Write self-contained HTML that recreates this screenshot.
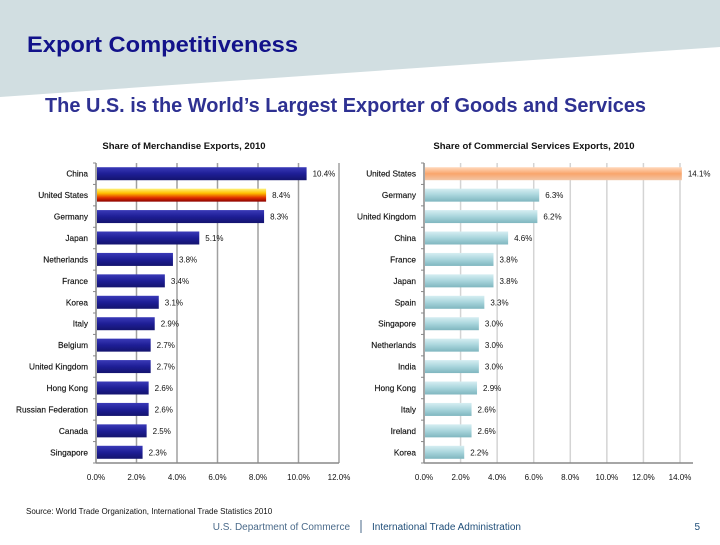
<!DOCTYPE html>
<html><head><meta charset="utf-8"><style>
body{margin:0;width:720px;height:540px;overflow:hidden;background:#fff;font-family:"Liberation Sans",sans-serif}
</style></head><body>
<svg width="720" height="540" xmlns="http://www.w3.org/2000/svg">
<defs>
<linearGradient id="navy" x1="0" y1="0" x2="0" y2="1"><stop offset="0" stop-color="#3a3ab8"/><stop offset="0.5" stop-color="#1e1e96"/><stop offset="1" stop-color="#14146e"/></linearGradient>
<linearGradient id="us1" x1="0" y1="0" x2="0" y2="1"><stop offset="0" stop-color="#fff27a"/><stop offset="0.35" stop-color="#ffc000"/><stop offset="0.7" stop-color="#e03000"/><stop offset="1" stop-color="#8a0000"/></linearGradient>
<linearGradient id="teal" x1="0" y1="0" x2="0" y2="1"><stop offset="0" stop-color="#d6eef2"/><stop offset="0.5" stop-color="#a8d5dc"/><stop offset="1" stop-color="#7fb6bf"/></linearGradient>
<linearGradient id="orange" x1="0" y1="0" x2="0" y2="1"><stop offset="0" stop-color="#ffd9bd"/><stop offset="0.5" stop-color="#f9a56c"/><stop offset="1" stop-color="#f2c6a6"/></linearGradient>
</defs>
<polygon points="0,0 720,0 720,47 0,97" fill="#d1dee1"/>
<text x="27" y="52" font-size="22" font-weight="bold" fill="#12128a" textLength="271" lengthAdjust="spacingAndGlyphs">Export Competitiveness</text>
<text x="45" y="112" font-size="20" font-weight="bold" fill="#2e3192" textLength="601" lengthAdjust="spacingAndGlyphs">The U.S. is the World’s Largest Exporter of Goods and Services</text>
<text x="184" y="149" font-size="9.5" font-weight="bold" text-anchor="middle" fill="#111">Share of Merchandise Exports, 2010</text>
<text x="534" y="149" font-size="9.5" font-weight="bold" text-anchor="middle" fill="#111">Share of Commercial Services Exports, 2010</text>
<g id="left"></g>
<g id="right"></g>
<text x="26" y="514" font-size="8" fill="#111">Source: World Trade Organization, International Trade Statistics 2010</text>
<text x="350" y="530" font-size="10" text-anchor="end" fill="#4a6a8a">U.S. Department of Commerce</text>
<line x1="361" y1="520" x2="361" y2="533" stroke="#4a6a8a"/>
<text x="372" y="530" font-size="10" fill="#1f4e79">International Trade Administration</text>
<text x="700" y="530" font-size="10" text-anchor="end" fill="#1f4e79">5</text>
</svg>
<script>
const leftCats=["China","United States","Germany","Japan","Netherlands","France","Korea","Italy","Belgium","United Kingdom","Hong Kong","Russian Federation","Canada","Singapore"];
const leftVals=[10.4,8.4,8.3,5.1,3.8,3.4,3.1,2.9,2.7,2.7,2.6,2.6,2.5,2.3];
const leftTicks=[0,2,4,6,8,10,12];
const rightCats=["United States","Germany","United Kingdom","China","France","Japan","Spain","Singapore","Netherlands","India","Hong Kong","Italy","Ireland","Korea"];
const rightVals=[14.1,6.3,6.2,4.6,3.8,3.8,3.3,3.0,3.0,3.0,2.9,2.6,2.6,2.2];
const rightTicks=[0,2,4,6,8,10,12,14];
const NS="http://www.w3.org/2000/svg";
function mk(g,t,a){const e=document.createElementNS(NS,t);for(const k in a)e.setAttribute(k,a[k]);g.appendChild(e);return e;}
function draw(gid,cats,vals,ticks,x0,x1,max,gridCol,fill,hiFill,axisEnd,prefix){
  const g=document.getElementById(gid);
  const top=163,bot=463,n=cats.length,step=(bot-top)/n;
  const X=v=>x0+(x1-x0)*v/max;
  ticks.forEach((t,i)=>{
    if(t>0){const l=mk(g,'line',{x1:X(t),x2:X(t),y1:top,y2:bot,stroke:gridCol,'stroke-width':1.5});
    
    }
    const tl=mk(g,'text',{x:X(t),y:bot+17,'font-size':8,'text-anchor':'middle',fill:'#111'});
    tl.textContent=t.toFixed(1)+'%';
    
    
  });
  const ax=mk(g,'line',{x1:x0,x2:axisEnd,y1:bot,y2:bot,stroke:'#888','stroke-width':1.5});
  
  
  const ay=mk(g,'line',{x1:x0,x2:x0,y1:top,y2:bot,stroke:'#888','stroke-width':1.5});
  
  
  for(let i=0;i<=n;i++){const tk=mk(g,'line',{x1:x0-3,x2:x0,y1:top+i*step,y2:top+i*step,stroke:'#888'});
    
    }
  cats.forEach((c,i)=>{
    const cy=top+step*(i+0.5);
    const r=mk(g,'rect',{x:x0+1,y:cy-6.5,width:X(vals[i])-x0-1,height:13,fill:c=="United States"?hiFill:fill});
    
    
    const lb=mk(g,'text',{x:x0-8,y:cy+3,'font-size':8.3,'text-anchor':'end',fill:'#111','stroke':'#111','stroke-width':0.15});
    lb.textContent=c;
    
    
    const vl=mk(g,'text',{x:X(vals[i])+6,y:cy+3,'font-size':8,fill:'#111'});
    vl.textContent=vals[i].toFixed(1)+'%';
    
    
  });
}
draw('left',leftCats,leftVals,leftTicks,96,339,12,'#a0a0a0','url(#navy)','url(#us1)',339,'merch');
draw('right',rightCats,rightVals,rightTicks,424,680,14,'#d4d4d4','url(#teal)','url(#orange)',693,'services');
</script>
</body></html>
